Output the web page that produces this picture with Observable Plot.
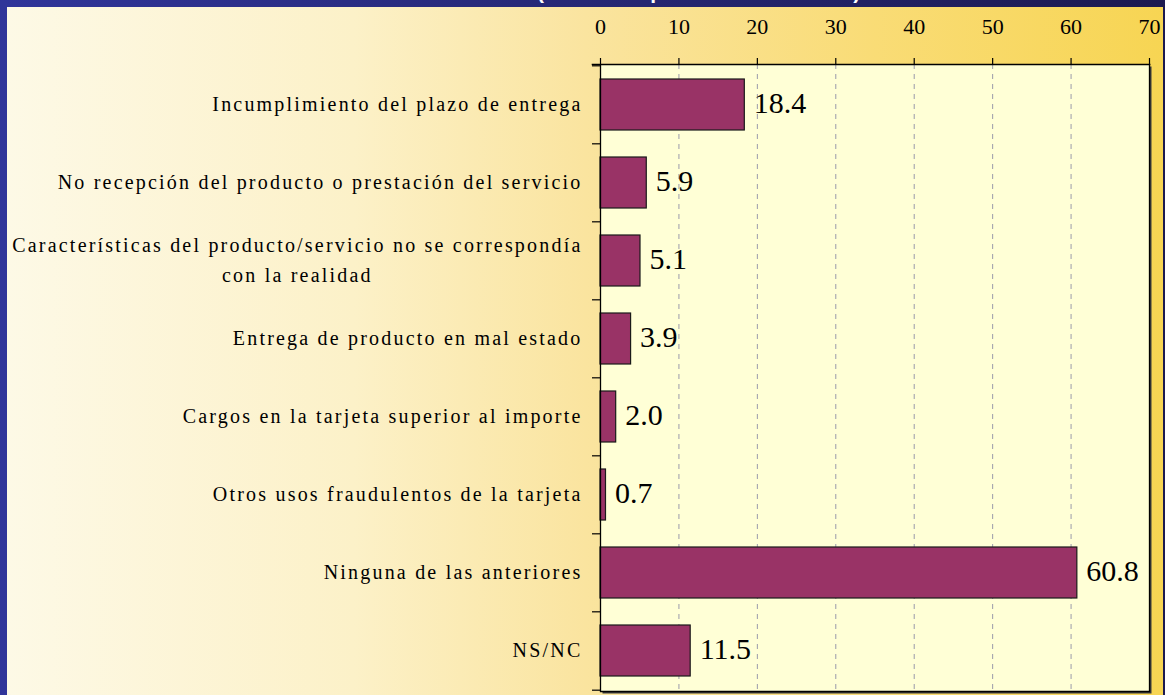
<!DOCTYPE html>
<html><head><meta charset="utf-8">
<script src="https://cdn.jsdelivr.net/npm/d3@7"></script>
<script src="https://cdn.jsdelivr.net/npm/@observablehq/plot@0.6"></script>
<style>
html,body{margin:0;padding:0;background:#26276e;}
#wrap{position:relative;width:1165px;height:695px;overflow:hidden;background:linear-gradient(to right,#30359a,#1c1a50);}
#title{position:absolute;left:537px;top:-20px;color:#fff;font:bold 21px "Liberation Sans",Arial,sans-serif;white-space:nowrap;}
#panel{position:absolute;left:7px;top:7px;width:1156px;height:688px;background:linear-gradient(to right,#fdf9e6 0%,#fcf1c8 30%,#fae49f 50%,#f9dc76 75%,#f7d553 100%);}
#chart{position:absolute;left:0;top:0;}
</style></head>
<body>
<div id="wrap"><div id="title">(Base: compradores en Internet)</div><div id="panel"></div><div id="chart"></div></div>
<script>
const categories = [
  "Incumplimiento del plazo de entrega",
  "No recepción del producto o prestación del servicio",
  "Características del producto/servicio no se correspondía\ncon la realidad",
  "Entrega de producto en mal estado",
  "Cargos en la tarjeta superior al importe",
  "Otros usos fraudulentos de la tarjeta",
  "Ninguna de las anteriores",
  "NS/NC"
];
const values = [18.4, 5.9, 5.1, 3.9, 2.0, 0.7, 60.8, 11.5];
const valueLabels = ["18.4", "5.9", "5.1", "3.9", "2.0", "0.7", "60.8", "11.5"];
const xTicks = [0, 10, 20, 30, 40, 50, 60, 70];

const data = categories.map((c, i) => ({cat: c, value: values[i], label: valueLabels[i]}));

const W = 1165, H = 695, mT = 64, mB = 4, mL = 600, mR = 16;
const step = (H - mT - mB) / categories.length;
const serif = "'Liberation Serif','Times New Roman',serif";

const plot = Plot.plot({
  width: W, height: H,
  marginLeft: mL, marginRight: mR, marginTop: mT, marginBottom: mB,
  style: {background: "transparent", fontFamily: serif, color: "black", overflow: "visible"},
  x: {domain: [0, 70], ticks: xTicks},
  y: {domain: categories, paddingInner: 0.34, paddingOuter: 0.17, axis: null},
  marks: [
    Plot.frame({fill: "#3a3a3a", dx: 2, dy: 2}),
    Plot.frame({fill: "#ffffd6"}),
    Plot.ruleX(xTicks.slice(1, -1), {stroke: "#9a9aaa", strokeDasharray: "5,5", strokeWidth: 1}),
    Plot.barX(data, {x: "value", y: "cat", fill: "#993366", stroke: "#1a1a1a", strokeWidth: 1.2}),
    Plot.text(data, {x: "value", y: "cat", text: "label", textAnchor: "start", dx: 9, dy: -2, fontSize: 30, fontFamily: serif, fill: "black"}),
    Plot.ruleX([0], {stroke: "black", strokeWidth: 1.3}),
    Plot.ruleX([70], {stroke: "black", strokeWidth: 1.3}),
    Plot.frame({anchor: "bottom", stroke: "black", strokeWidth: 1.3}),
    Plot.frame({anchor: "top", stroke: "black", strokeWidth: 1.6, insetLeft: -8}),
    Plot.ruleY(categories, {y: d => d, x1: 0, x2: 0, insetLeft: -8, dy: -step / 2, stroke: "black", strokeWidth: 1.2}),
    Plot.ruleY(categories.slice(-1), {y: d => d, x1: 0, x2: 0, insetLeft: -8, dy: step / 2, stroke: "black", strokeWidth: 1.2}),
    Plot.axisX({anchor: "top", ticks: xTicks, tickSize: 7, tickPadding: 24, fontSize: 22, label: null, stroke: "black", strokeWidth: 1.2}),
    Plot.axisY({anchor: "left", tickSize: 0, tickPadding: 18, dy: -4, fontSize: 20, lineHeight: 1.5, label: null})
  ]
});
document.getElementById("chart").appendChild(plot);

// letter spacing for the category labels; center the lines of the two-line label
const catSet = new Set(categories);
plot.querySelectorAll("text").forEach(t => {
  if (!catSet.has(Array.from(t.querySelectorAll("tspan")).map(s => s.textContent).join("\n") || t.textContent)) return;
  t.setAttribute("letter-spacing", "2.2px");
  if (t.querySelectorAll("tspan").length > 1) {
    const w = t.getBBox().width;
    const tr = t.getAttribute("transform") || "";
    t.setAttribute("text-anchor", "middle");
    t.setAttribute("transform", tr + ` translate(${-w / 2},0)`);
  }
});
</script>
</body></html>
